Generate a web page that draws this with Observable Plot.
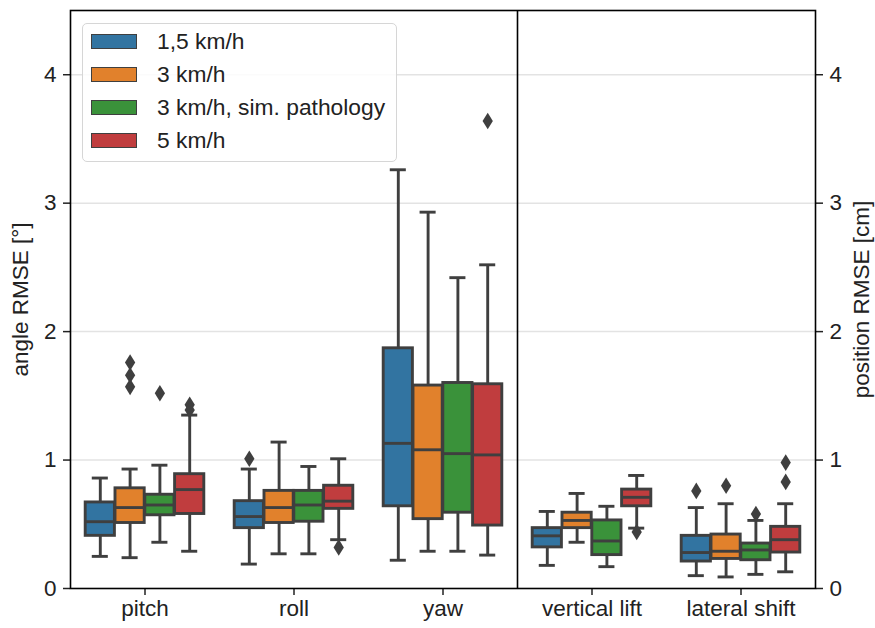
<!DOCTYPE html>
<html>
<head>
<meta charset="utf-8">
<script src="https://cdn.jsdelivr.net/npm/d3@7"></script>
<script src="https://cdn.jsdelivr.net/npm/@observablehq/plot@0.6"></script>
<style>
  html, body { margin: 0; padding: 0; background: #fff; }
  #wrap { position: relative; width: 875px; height: 628px; font-family: "Liberation Sans", Arial, sans-serif; color: #222; }
  #legend { position: absolute; left: 82px; top: 23px; width: 315px; height: 139px; border: 1.2px solid #d6d6d6; border-radius: 5px; background: rgba(255,255,255,0.85); box-sizing: border-box; }
  .row { position: absolute; left: 8px; height: 24px; display: flex; align-items: center; font-size: 22.8px; white-space: nowrap; }
  .sw { width: 46px; height: 15px; border: 1.3px solid #3f3f3f; box-sizing: border-box; margin-right: 20px; }
</style>
</head>
<body>
<div id="wrap"></div>
<script>
const categories = ["pitch", "roll", "yaw", "vertical lift", "lateral shift"];
const hues = ["1,5 km/h", "3 km/h", "3 km/h, sim. pathology", "5 km/h"];
const colors = ["#3274a1", "#e1812c", "#3a923a", "#c03d3e"];
const yTicks = [0, 1, 2, 3, 4];

// rows: hues, columns: categories
const whiskerLow = [
  [0.25, 0.19, 0.22, 0.18, 0.10],
  [0.24, 0.27, 0.29, 0.36, 0.09],
  [0.36, 0.27, 0.29, 0.17, 0.11],
  [0.29, 0.38, 0.26, 0.47, 0.13]
];
const q1 = [
  [0.41, 0.47, 0.64, 0.32, 0.21],
  [0.51, 0.51, 0.54, 0.47, 0.23],
  [0.57, 0.52, 0.59, 0.26, 0.22],
  [0.58, 0.62, 0.49, 0.64, 0.28]
];
const median = [
  [0.52, 0.56, 1.13, 0.41, 0.28],
  [0.63, 0.63, 1.08, 0.53, 0.29],
  [0.65, 0.65, 1.05, 0.37, 0.30],
  [0.77, 0.68, 1.04, 0.71, 0.38]
];
const q3 = [
  [0.67, 0.68, 1.87, 0.47, 0.41],
  [0.78, 0.76, 1.58, 0.59, 0.42],
  [0.73, 0.76, 1.60, 0.53, 0.35],
  [0.89, 0.80, 1.59, 0.77, 0.48]
];
const whiskerHigh = [
  [0.86, 0.93, 3.26, 0.60, 0.63],
  [0.93, 1.14, 2.93, 0.74, 0.66],
  [0.96, 0.95, 2.42, 0.64, 0.53],
  [1.35, 1.01, 2.52, 0.88, 0.66]
];
// outliers: [category, hue, value]
const outliers = [
  ["pitch", "3 km/h", 1.76], ["pitch", "3 km/h", 1.66], ["pitch", "3 km/h", 1.57],
  ["pitch", "3 km/h, sim. pathology", 1.52],
  ["pitch", "5 km/h", 1.43], ["pitch", "5 km/h", 1.39],
  ["roll", "1,5 km/h", 1.01],
  ["roll", "5 km/h", 0.32],
  ["yaw", "5 km/h", 3.64],
  ["vertical lift", "5 km/h", 0.44],
  ["lateral shift", "1,5 km/h", 0.76],
  ["lateral shift", "3 km/h", 0.80],
  ["lateral shift", "3 km/h, sim. pathology", 0.58],
  ["lateral shift", "5 km/h", 0.98], ["lateral shift", "5 km/h", 0.83]
];

const groupWidth = 0.8;
const slot = groupWidth / hues.length;
const halfBox = slot * 0.98 / 2;
const halfCap = halfBox * 0.55;
const offset = h => -groupWidth / 2 + slot * (h + 0.5);

const boxes = [];
hues.forEach((hue, h) => categories.forEach((cat, c) => {
  const x = c + offset(h);
  boxes.push({hue, cat, x, x1: x - halfBox, x2: x + halfBox, cx1: x - halfCap, cx2: x + halfCap,
    lo: whiskerLow[h][c], q1: q1[h][c], med: median[h][c], q3: q3[h][c], hi: whiskerHigh[h][c]});
}));
const fliers = outliers.map(([cat, hue, v]) => ({x: categories.indexOf(cat) + offset(hues.indexOf(hue)), v, hue}));

const thinDiamond = {
  draw(ctx, size) {
    const r = Math.sqrt(size / Math.PI);
    const w = r * 0.62;
    ctx.moveTo(0, -r); ctx.lineTo(w, 0); ctx.lineTo(0, r); ctx.lineTo(-w, 0); ctx.closePath();
  }
};

const edge = "#3f3f3f";
const lw = 2.9;
const font = 22.5;

const chart = Plot.plot({
  width: 875,
  height: 628,
  marginLeft: 70,
  marginRight: 60,
  marginTop: 10,
  marginBottom: 40,
  style: {fontFamily: '"Liberation Sans", Arial, sans-serif', fontSize: font + "px", color: "#222", background: "white"},
  x: {domain: [-0.5, 4.5]},
  y: {domain: [0, 4.5]},
  color: {domain: hues, range: colors},
  marks: [
    Plot.gridY(yTicks.filter(d => d > 0), {stroke: "#e3e3e3", strokeOpacity: 1, strokeWidth: 1.5}),
    Plot.ruleX(boxes, {x: "x", y1: "q3", y2: "hi", stroke: edge, strokeWidth: lw}),
    Plot.ruleX(boxes, {x: "x", y1: "lo", y2: "q1", stroke: edge, strokeWidth: lw}),
    Plot.ruleY(boxes, {y: "hi", x1: "cx1", x2: "cx2", stroke: edge, strokeWidth: lw}),
    Plot.ruleY(boxes, {y: "lo", x1: "cx1", x2: "cx2", stroke: edge, strokeWidth: lw}),
    Plot.rect(boxes, {x1: "x1", x2: "x2", y1: "q1", y2: "q3", fill: "hue", stroke: edge, strokeWidth: lw}),
    Plot.ruleY(boxes, {y: "med", x1: "x1", x2: "x2", stroke: edge, strokeWidth: lw}),
    Plot.dot(fliers, {x: "x", y: "v", symbol: thinDiamond, r: 8.3, fill: edge, stroke: "none"}),
    Plot.ruleX([2.5], {stroke: "black", strokeWidth: 1.6}),
    Plot.axisX({ticks: yTicks, tickFormat: i => categories[i], tickSize: 7, tickPadding: 5, strokeWidth: 1.5, fontSize: font, label: null, stroke: "#222"}),
    Plot.axisY({ticks: yTicks, tickFormat: d => String(d), anchor: "left", tickSize: 7, tickPadding: 7, strokeWidth: 1.5, fontSize: font, stroke: "#222",
      label: "angle RMSE [°]", labelAnchor: "center", labelArrow: "none", labelOffset: 58}),
    Plot.axisY({ticks: yTicks, tickFormat: d => String(d), anchor: "right", tickSize: 7, tickPadding: 7, strokeWidth: 1.5, fontSize: font, stroke: "#222",
      label: "position RMSE [cm]", labelAnchor: "center", labelArrow: "none", labelOffset: 53}),
    Plot.frame({stroke: "black", strokeWidth: 1.6})
  ]
});

const wrap = document.getElementById("wrap");
wrap.appendChild(chart);
const legend = document.createElement("div");
legend.id = "legend";
hues.forEach((hue, i) => {
  const row = document.createElement("div");
  row.className = "row";
  row.style.top = (5 + i * 33.3) + "px";
  const sw = document.createElement("div");
  sw.className = "sw";
  sw.style.background = colors[i];
  const t = document.createElement("span");
  t.textContent = hue;
  row.appendChild(sw);
  row.appendChild(t);
  legend.appendChild(row);
});
wrap.appendChild(legend);
</script>
</body>
</html>
